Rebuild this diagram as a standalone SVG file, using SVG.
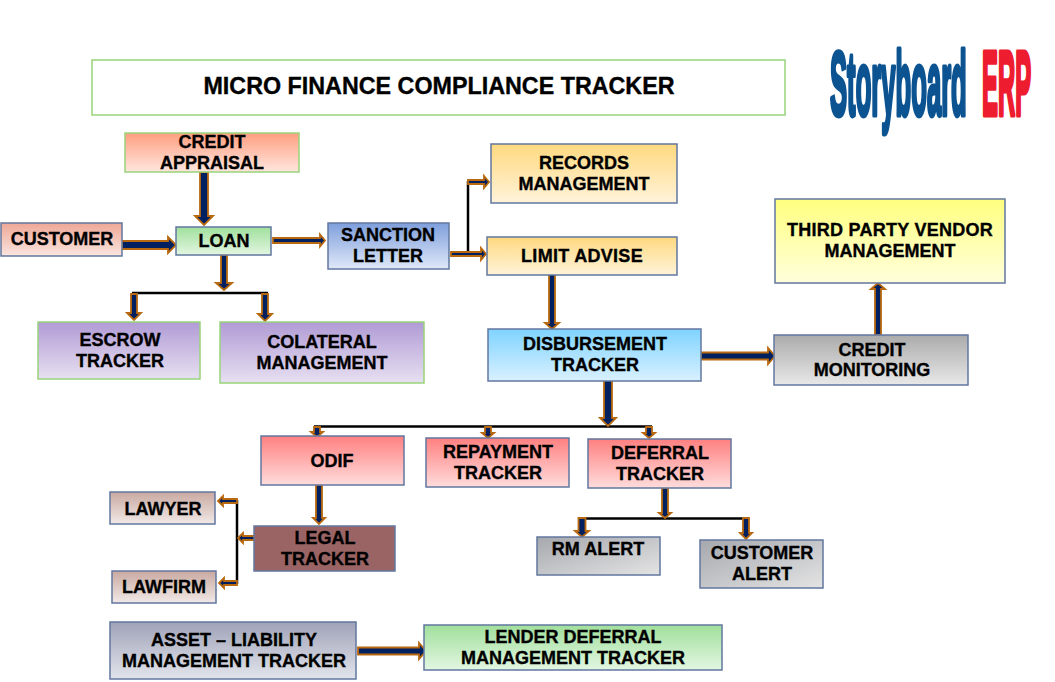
<svg xmlns="http://www.w3.org/2000/svg" width="1055" height="682" viewBox="0 0 1055 682">
<style>
text{font-family:"Liberation Sans",Arial,sans-serif;font-weight:700;font-size:18px;fill:#000;stroke:#000;stroke-width:.35;text-anchor:middle}
.b{stroke:#61779f;stroke-width:1.5}
.g{stroke:#98d47a;stroke-width:1.5}
.logo{font-size:90px;text-anchor:start;stroke-width:5;stroke-linejoin:round}
#connectors polygon{fill:#002060;stroke:#b8690f;stroke-width:1.8;stroke-linejoin:miter}
#connectors path{fill:none;stroke:#000;stroke-width:2.5}
</style>
<defs>
<linearGradient id="peach" x1="0" y1="0" x2="0" y2="1"><stop offset="0" stop-color="#ff9f80"/><stop offset="1" stop-color="#ffe6de"/></linearGradient>
<linearGradient id="salmon" x1="0" y1="0" x2="0" y2="1"><stop offset="0" stop-color="#eea796"/><stop offset="1" stop-color="#fbe5df"/></linearGradient>
<linearGradient id="green" x1="0" y1="0" x2="0" y2="1"><stop offset="0" stop-color="#a0e09c"/><stop offset="1" stop-color="#e3f6e2"/></linearGradient>
<linearGradient id="blue" x1="0" y1="0" x2="0" y2="1"><stop offset="0" stop-color="#7f9fdc"/><stop offset="1" stop-color="#dfe8f8"/></linearGradient>
<linearGradient id="amber" x1="0" y1="0" x2="0" y2="1"><stop offset="0" stop-color="#ffd97f"/><stop offset="1" stop-color="#fff3da"/></linearGradient>
<linearGradient id="sky" x1="0" y1="0" x2="0" y2="1"><stop offset="0" stop-color="#7fd3ff"/><stop offset="1" stop-color="#d9f1ff"/></linearGradient>
<linearGradient id="yellow" x1="0" y1="0" x2="0" y2="1"><stop offset="0" stop-color="#ffff7f"/><stop offset="1" stop-color="#ffffdc"/></linearGradient>
<linearGradient id="grey" x1="0" y1="0" x2="0" y2="1"><stop offset="0" stop-color="#ababab"/><stop offset="1" stop-color="#e8e8e8"/></linearGradient>
<linearGradient id="purple" x1="0" y1="0" x2="0" y2="1"><stop offset="0" stop-color="#b19bd5"/><stop offset="1" stop-color="#e7e0f1"/></linearGradient>
<linearGradient id="red" x1="0" y1="0" x2="0" y2="1"><stop offset="0" stop-color="#ff8080"/><stop offset="1" stop-color="#ffdcdc"/></linearGradient>
<linearGradient id="rose" x1="0" y1="0" x2="0" y2="1"><stop offset="0" stop-color="#c9a9a1"/><stop offset="1" stop-color="#f1e9e7"/></linearGradient>
<linearGradient id="steel" x1="0" y1="0" x2="1" y2="1"><stop offset="0" stop-color="#a6a8ae"/><stop offset="1" stop-color="#e4e4e4"/></linearGradient>
<linearGradient id="slate" x1="0" y1="0" x2="0" y2="1"><stop offset="0" stop-color="#a0a3b8"/><stop offset="1" stop-color="#e2e4ec"/></linearGradient>
</defs>
<rect width="1055" height="682" fill="#fff"/>

<g id="connectors">
<path d="M132 293H268"/>
<path d="M468 181V254"/>
<path d="M314 426.5H652"/>
<path d="M237 500V584"/>
<path d="M580 518.5H749"/>
<polygon points="200,172 208,172 208,216 213,216 204,225 195,216 200,216"/>
<polygon points="122,241 168,241 168,237 176,245 168,253 168,249 122,249"/>
<polygon points="273,238 320,238 320,234.500 325,240.500 320,246.500 320,243 273,243"/>
<polygon points="221,255 227,255 227,283 232,283 224,290 216,283 221,283"/>
<polygon points="131,294 137,294 137,313 141,313 134,320 127,313 131,313"/>
<polygon points="262,294 268,294 268,314 272,314 265,321 258,314 262,314"/>
<polygon points="451,252 481,252 481,248 486,254 481,260 481,256 451,256"/>
<polygon points="468,180 484,180 484,176 489,182 484,188 484,184 468,184"/>
<polygon points="549,274 555,274 555,323 559,323 552,329 545,323 549,323"/>
<polygon points="701,352.500 768,352.500 768,348 775,356 768,364 768,359.500 701,359.500"/>
<polygon points="875,335 881,335 881,289 885,289 878,283 871,289 875,289"/>
<polygon points="604,380 612,380 612,418 616,418 608,426 600,418 604,418"/>
<polygon points="314,427 320,427 320,432 323,432 317,437 311,432 314,432"/>
<polygon points="485,427 491,427 491,433 494,433 488,438 482,433 485,433"/>
<polygon points="646,427 652,427 652,433 655,433 649,438 643,433 646,433"/>
<polygon points="316,485 322,485 322,518 325,518 319,524 313,518 316,518"/>
<polygon points="256,536 243,536 243,533 238,538 243,543 243,540 256,540"/>
<polygon points="237,499 223,499 223,496 218,501 223,506 223,503 237,503"/>
<polygon points="237,581 224,581 224,578 219,583 224,588 224,585 237,585"/>
<polygon points="358,647.500 419,647.500 419,643 426,651 419,659 419,654.500 358,654.500"/>
<polygon points="662,488 668,488 668,513 671,513 665,518 659,513 662,513"/>
<polygon points="578.500,518 585.500,518 585.500,531 589,531 582,537 575,531 578.500,531"/>
<polygon points="743,518 749,518 749,533 752,533 746,539 740,533 743,533"/>
</g>

<g id="title"><rect class="g" x="92" y="60" width="693" height="55" fill="#fff"/><text x="439" y="94" style="font-size:23.300px">MICRO FINANCE COMPLIANCE TRACKER</text></g>
<g id="logo"><text class="logo" transform="translate(830 115) scale(.285 1)" style="fill:#0c5391;stroke:#0c5391">Storyboard</text><text class="logo" transform="translate(982 115) scale(.265 1)" style="fill:#ed1c2e;stroke:#ed1c2e">ERP</text></g>

<g id="credit-appraisal"><rect class="g" x="125" y="133" width="174" height="39" fill="url(#peach)"/><text x="212" y="148">CREDIT</text><text x="212" y="169">APPRAISAL</text></g>
<g id="customer"><rect class="b" x="1" y="223" width="121" height="33" fill="url(#salmon)"/><text x="62" y="245">CUSTOMER</text></g>
<g id="loan"><rect class="b" x="176" y="227" width="95" height="28" fill="url(#green)"/><text x="224" y="247">LOAN</text></g>
<g id="sanction-letter"><rect class="b" x="328" y="223" width="121" height="46" fill="url(#blue)"/><text x="388" y="241">SANCTION</text><text x="388" y="262">LETTER</text></g>
<g id="records-management"><rect class="b" x="491" y="144" width="186" height="59" fill="url(#amber)"/><text x="584" y="169">RECORDS</text><text x="584" y="190">MANAGEMENT</text></g>
<g id="limit-advise"><rect class="b" x="487" y="237" width="190" height="38" fill="url(#amber)"/><text x="582" y="262" style="letter-spacing:.3px">LIMIT ADVISE</text></g>
<g id="disbursement-tracker"><rect class="b" x="488" y="329" width="213" height="52" fill="url(#sky)"/><text x="595" y="350">DISBURSEMENT</text><text x="595" y="371">TRACKER</text></g>
<g id="third-party"><rect class="b" x="775" y="199" width="230" height="84" fill="url(#yellow)"/><text x="890" y="236" style="letter-spacing:.25px">THIRD PARTY VENDOR</text><text x="890" y="257">MANAGEMENT</text></g>
<g id="credit-monitoring"><rect class="b" x="774" y="335" width="194" height="50" fill="url(#grey)"/><text x="872" y="356">CREDIT</text><text x="872" y="376">MONITORING</text></g>
<g id="escrow-tracker"><rect class="g" x="38" y="322" width="162" height="57" fill="url(#purple)"/><text x="120" y="346">ESCROW</text><text x="120" y="367">TRACKER</text></g>
<g id="colateral-management"><rect class="g" x="220" y="322" width="204" height="61" fill="url(#purple)"/><text x="322" y="348">COLATERAL</text><text x="322" y="369">MANAGEMENT</text></g>
<g id="odif"><rect class="b" x="261" y="436" width="143" height="49" fill="url(#red)"/><text x="332" y="467">ODIF</text></g>
<g id="repayment-tracker"><rect class="b" x="426" y="438" width="143" height="49" fill="url(#red)"/><text x="498" y="458">REPAYMENT</text><text x="498" y="479">TRACKER</text></g>
<g id="deferral-tracker"><rect class="b" x="588" y="439" width="143" height="49" fill="url(#red)"/><text x="660" y="459">DEFERRAL</text><text x="660" y="480">TRACKER</text></g>
<g id="lawyer"><rect class="b" x="110" y="492" width="105" height="32" fill="url(#rose)"/><text x="163" y="515">LAWYER</text></g>
<g id="legal-tracker"><rect class="b" x="254" y="526" width="141" height="45" fill="#9b6464"/><text x="325" y="544">LEGAL</text><text x="325" y="565">TRACKER</text></g>
<g id="lawfirm"><rect class="b" x="112" y="571" width="104" height="32" fill="url(#rose)"/><text x="164" y="593">LAWFIRM</text></g>
<g id="rm-alert"><rect class="b" x="537" y="537" width="123" height="38" fill="url(#steel)"/><text x="598" y="555">RM ALERT</text></g>
<g id="customer-alert"><rect class="b" x="700" y="540" width="123" height="48" fill="url(#steel)"/><text x="762" y="559">CUSTOMER</text><text x="762" y="580">ALERT</text></g>
<g id="asset-liability"><rect class="b" x="110" y="622" width="246" height="57" fill="url(#slate)"/><text x="234" y="646">ASSET – LIABILITY</text><text x="234" y="667">MANAGEMENT TRACKER</text></g>
<g id="lender-deferral"><rect class="b" x="424" y="625" width="298" height="45" fill="url(#green)"/><text x="573" y="643">LENDER DEFERRAL</text><text x="573" y="664">MANAGEMENT TRACKER</text></g>
</svg>
